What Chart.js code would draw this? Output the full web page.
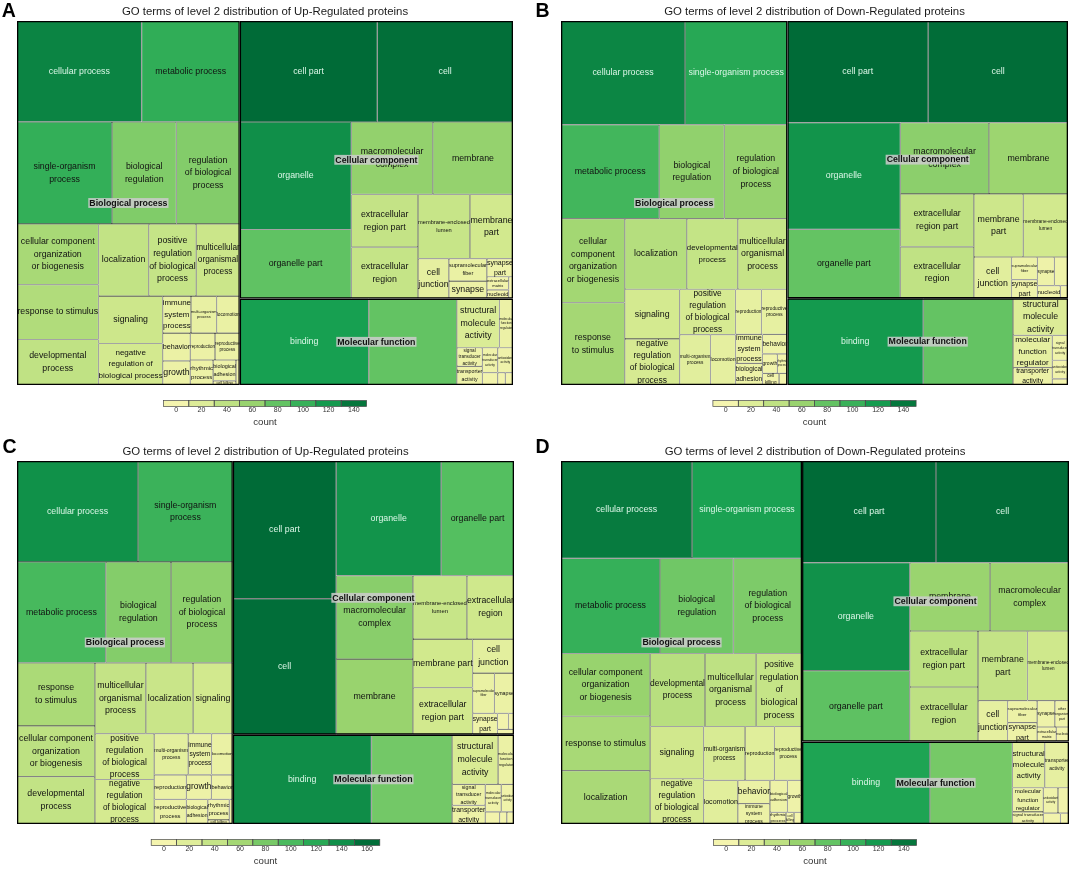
<!DOCTYPE html>
<html>
<head>
<meta charset="utf-8">
<script src="https://cdn.jsdelivr.net/npm/chart.js@4.4.1/dist/chart.umd.min.js"></script>
<style>
  html, body { margin: 0; padding: 0; background: #fff; }
  #page { position: relative; width: 1072px; height: 880px; overflow: hidden; }
  .panel { position: absolute; }
  .letter { position: absolute; font: bold 19.5px "Liberation Sans", Arial, sans-serif; line-height: 1; color: #000; }
</style>
</head>
<body>
<div id="page"></div>
<script>
// ── Data ─────────────────────────────────────────────────────
const titleUp = 'GO terms of level 2 distribution of Up-Regulated proteins';
const titleDown = 'GO terms of level 2 distribution of Down-Regulated proteins';
const panelLetters = ['A', 'B', 'C', 'D'];
const groupNames = ['Biological process', 'Cellular component', 'Molecular function'];
const countLabel = 'count';

// panel A (up-regulated)
const aBioTerms = ['cellular process', 'metabolic process', 'single-organism process', 'biological regulation',
  'regulation of biological process', 'cellular component organization or biogenesis', 'response to stimulus',
  'developmental process', 'localization', 'positive regulation of biological process',
  'multicellular organismal process', 'signaling', 'negative regulation of biological process',
  'immune system process', 'multi-organism process', 'locomotion', 'behavior', 'growth', 'reproduction',
  'reproductive process', 'rhythmic process', 'biological adhesion', 'cell killing', 'detoxification'];
const aBioCounts = [132, 104, 102, 69, 68, 52, 47, 39, 38, 36, 33, 32, 28, 11, 10, 9, 8, 7, 7, 7, 6, 5, 1, 1];
const aCellTerms = ['cell part', 'cell', 'organelle', 'organelle part', 'macromolecular complex', 'membrane',
  'extracellular region part', 'extracellular region', 'membrane-enclosed lumen', 'membrane part', 'cell junction',
  'supramolecular fiber', 'synapse', 'synapse part', 'extracellular matrix', 'nucleoid', 'other organism part'];
const aCellCounts = [146, 144, 126, 81, 62, 61, 37, 36, 35, 29, 13, 9, 7, 5, 3, 2, 1];
const aFuncTerms = ['binding', 'catalytic activity', 'structural molecule activity', 'molecular function regulator',
  'signal transducer activity', 'transporter activity', 'molecular transducer activity', 'antioxidant activity',
  'nucleic acid binding transcription factor activity', 'electron carrier activity',
  'transcription factor activity, protein binding'];
const aFuncCounts = [117, 80, 22, 7, 5, 5, 4, 4, 2, 1, 1];
const legendTicksA = [0, 20, 40, 60, 80, 100, 120, 140];

// panel B (down-regulated)
const bBioTerms = ['cellular process', 'single-organism process', 'metabolic process', 'biological regulation',
  'regulation of biological process', 'cellular component organization or biogenesis', 'response to stimulus',
  'localization', 'developmental process', 'multicellular organismal process', 'signaling',
  'negative regulation of biological process', 'positive regulation of biological process',
  'multi-organism process', 'locomotion', 'reproduction', 'reproductive process', 'immune system process',
  'biological adhesion', 'behavior', 'growth', 'rhythmic process', 'cell killing', 'detoxification'];
const bBioCounts = [132, 109, 95, 63, 61, 55, 54, 45, 37, 36, 28, 26, 26, 16, 13, 12, 12, 8, 6, 5, 3, 2, 2, 1];
const bCellTerms = ['cell part', 'cell', 'organelle', 'organelle part', 'macromolecular complex', 'membrane',
  'extracellular region part', 'extracellular region', 'membrane part', 'membrane-enclosed lumen', 'cell junction',
  'supramolecular fiber', 'synapse part', 'synapse', 'extracellular matrix', 'nucleoid', 'other organism part'];
const bCellCounts = [147, 146, 124, 80, 65, 58, 40, 39, 32, 29, 16, 6, 5, 5, 4, 3, 1];
const bFuncTerms = ['binding', 'catalytic activity', 'structural molecule activity', 'molecular function regulator',
  'transporter activity', 'signal transducer activity', 'antioxidant activity', 'molecular transducer activity'];
const bFuncCounts = [121, 80, 21, 13, 7, 4, 3, 1];
const legendTicksB = [0, 20, 40, 60, 80, 100, 120, 140];

// panel C (up-regulated)
const cBioTerms = ['cellular process', 'single-organism process', 'metabolic process', 'biological regulation',
  'regulation of biological process', 'response to stimulus', 'cellular component organization or biogenesis',
  'developmental process', 'multicellular organismal process', 'localization', 'signaling',
  'positive regulation of biological process', 'negative regulation of biological process',
  'multi-organism process', 'immune system process', 'locomotion', 'reproduction', 'reproductive process',
  'growth', 'behavior', 'biological adhesion', 'rhythmic process', 'cell killing', 'detoxification'];
const cBioCounts = [139, 109, 102, 75, 71, 56, 45, 42, 41, 38, 32, 31, 30, 16, 11, 10, 9, 9, 7, 6, 6, 5, 1, 1];
const cCellTerms = ['cell part', 'cell', 'organelle', 'organelle part', 'macromolecular complex', 'membrane',
  'membrane-enclosed lumen', 'extracellular region', 'membrane part', 'extracellular region part', 'cell junction',
  'supramolecular fiber', 'synapse', 'synapse part', 'extracellular matrix', 'nucleoid', 'other organism part'];
const cCellCounts = [162, 160, 137, 95, 73, 66, 39, 34, 33, 32, 16, 10, 9, 6, 2, 1, 1];
const cFuncTerms = ['binding', 'catalytic activity', 'structural molecule activity', 'molecular function regulator',
  'signal transducer activity', 'transporter activity', 'molecular transducer activity', 'antioxidant activity',
  'nucleic acid binding transcription factor activity', 'electron carrier activity',
  'transcription factor activity, protein binding'];
const cFuncCounts = [141, 82, 26, 9, 8, 7, 5, 4, 2, 1, 1];
const legendTicksC = [0, 20, 40, 60, 80, 100, 120, 140, 160];

// panel D (down-regulated)
const dBioTerms = ['cellular process', 'single-organism process', 'metabolic process', 'biological regulation',
  'regulation of biological process', 'cellular component organization or biogenesis', 'response to stimulus',
  'localization', 'developmental process', 'multicellular organismal process',
  'positive regulation of biological process', 'signaling', 'negative regulation of biological process',
  'multi-organism process', 'reproduction', 'reproductive process', 'locomotion', 'behavior',
  'immune system process', 'biological adhesion', 'growth', 'rhythmic process', 'cell killing', 'detoxification'];
const dBioCounts = [137, 115, 101, 75, 70, 60, 52, 51, 43, 40, 36, 30, 26, 24, 17, 16, 16, 8, 7, 6, 5, 2, 1, 1];
const dCellTerms = ['cell part', 'cell', 'organelle', 'organelle part', 'membrane', 'macromolecular complex',
  'extracellular region part', 'extracellular region', 'membrane part', 'membrane-enclosed lumen', 'cell junction',
  'supramolecular fiber', 'synapse part', 'synapse', 'other organism part', 'extracellular matrix', 'nucleoid'];
const dCellCounts = [146, 145, 125, 82, 59, 58, 41, 40, 37, 31, 13, 7, 6, 5, 4, 3, 2];
const dFuncTerms = ['binding', 'catalytic activity', 'structural molecule activity', 'transporter activity',
  'molecular function regulator', 'signal transducer activity', 'antioxidant activity',
  'molecular transducer activity', 'nucleic acid binding transcription factor activity', 'electron carrier activity'];
const dFuncCounts = [113, 73, 16, 12, 8, 4, 4, 3, 2, 1];
const legendTicksD = [0, 20, 40, 60, 80, 100, 120, 140];

// ── Look ─────────────────────────────────────────────────────
const FONT = '"Liberation Sans", Arial, Helvetica, sans-serif';
const LEAF_SIZE = 8.8;       // label size before shrinking
const LINE_GAP = 1.44;       // line spacing of wrapped labels
const MIN_SCALE = 0.3;       // smaller labels are dropped
const LIGHT_TEXT_AT = 0.725; // share of max count above which text is light
const MAX_OVERLAP = 0.45;    // leaf label hidden when group label covers more than this
const WIDE_BIAS = 1.015;
const paletteStops = ['#f4f4ae', '#d2e98e', '#9cd46f', '#4fbd5f', '#17a051', '#006b37'];

Chart.defaults.font.family = FONT;

function hexToRgb(h) {
  return [1, 3, 5].map(i => parseInt(h.substr(i, 2), 16));
}

function countColor(v, vmax) {
  const t = Math.max(0, Math.min(1, v / vmax)) * (paletteStops.length - 1);
  const i = Math.min(paletteStops.length - 2, Math.floor(t));
  const f = t - i;
  const a = hexToRgb(paletteStops[i]), b = hexToRgb(paletteStops[i + 1]);
  const c = a.map((x, k) => Math.round(x + (b[k] - x) * f));
  return `rgb(${c[0]},${c[1]},${c[2]})`;
}

const sum = arr => arr.reduce((s, v) => s + v, 0);

// ── Pivot-by-size layout (ordered treemap) ──────────────────
function pivotLayout(items, x, y, w, h, out) {
  if (!items.length) return;
  if (items.length === 1) {
    out.push(Object.assign({}, items[0], { x0: x, y0: y, x1: x + w, y1: y + h }));
    return;
  }
  const total = sum(items.map(d => d.value));
  let p = 0;
  items.forEach((d, i) => { if (d.value > items[p].value) p = i; });
  const pv = items[p].value;
  const before = items.slice(0, p), after = items.slice(p + 1);
  const sBefore = sum(before.map(d => d.value));
  const wide = w >= h * WIDE_BIAS;

  let k = 0, best = Infinity, acc = 0;
  for (let j = 0; j <= after.length; j++) {
    if (j > 0) acc += after[j - 1].value;
    const strip = (wide ? w : h) * (pv + acc) / total;
    const side = (wide ? h : w) * pv / (pv + acc);
    const r = Math.max(strip / side, side / strip);
    if (r < best - 1e-9) { best = r; k = j; }
  }
  const mid = after.slice(0, k), rest = after.slice(k);
  const sMid = sum(mid.map(d => d.value));

  if (wide) {
    const w1 = w * sBefore / total;
    const sw = w * (pv + sMid) / total;
    const ph = h * pv / (pv + sMid);
    pivotLayout(before, x, y, w1, h, out);
    out.push(Object.assign({}, items[p], { x0: x + w1, y0: y, x1: x + w1 + sw, y1: y + ph }));
    pivotLayout(mid, x + w1, y + ph, sw, h - ph, out);
    pivotLayout(rest, x + w1 + sw, y, w - w1 - sw, h, out);
  } else {
    const h1 = h * sBefore / total;
    const sh = h * (pv + sMid) / total;
    const pw = w * pv / (pv + sMid);
    pivotLayout(before, x, y, w, h1, out);
    out.push(Object.assign({}, items[p], { x0: x, y0: y + h1, x1: x + pw, y1: y + h1 + sh }));
    pivotLayout(mid, x + pw, y + h1, w - pw, sh, out);
    pivotLayout(rest, x, y + h1 + sh, w, h - h1 - sh, out);
  }
}

function buildCells(groupData, W, H) {
  const groups = groupData.map((g, gi) => ({
    name: groupNames[gi], value: sum(g.counts), terms: g.terms, counts: g.counts
  })).sort((a, b) => b.value - a.value);
  const groupRects = [];
  pivotLayout(groups, 0, 0, W, H, groupRects);
  const leafRects = [];
  groupRects.forEach(g => {
    const leaves = g.terms.map((t, i) => ({ name: t, value: g.counts[i], group: g.name }))
      .sort((a, b) => b.value - a.value);
    pivotLayout(leaves, g.x0, g.y0, g.x1 - g.x0, g.y1 - g.y0, leafRects);
  });
  const centre = r => Object.assign(r, { x: (r.x0 + r.x1) / 2, y: (r.y0 + r.y1) / 2 });
  return { groups: groupRects.map(centre), leaves: leafRects.map(centre) };
}

// ── Treemap controller: rectangles as Chart.js bar elements ──
class TreemapController extends Chart.DatasetController {
  update(mode) {
    const meta = this._cachedMeta;
    this.updateElements(meta.data, 0, meta.data.length, mode);
  }
  updateElements(rects, start, count) {
    const { xScale, yScale } = this._cachedMeta;
    const ds = this.getDataset();
    for (let i = start; i < start + count; i++) {
      const c = ds.data[i];
      const left = xScale.getPixelForValue(c.x0), right = xScale.getPixelForValue(c.x1);
      const top = yScale.getPixelForValue(c.y0), bottom = yScale.getPixelForValue(c.y1);
      Object.assign(rects[i], {
        x: (left + right) / 2, y: top, base: bottom, width: right - left,
        horizontal: false, inflateAmount: 0,
        borderSkipped: { top: false, right: false, bottom: false, left: false },
        options: {
          backgroundColor: Array.isArray(ds.backgroundColor) ? ds.backgroundColor[i] : ds.backgroundColor,
          borderColor: ds.borderColor,
          borderWidth: ds.borderWidth,
          borderRadius: 0
        }
      });
    }
  }
}
TreemapController.id = 'treemap';
TreemapController.defaults = { datasetElementType: false, dataElementType: 'bar' };
Chart.register(TreemapController);

// ── Label fitting ────────────────────────────────────────────
function bestSplit(ctx, words, n) {
  let best = null;
  (function rec(start, parts) {
    const left = n - parts.length;
    if (left === 1) {
      const lines = parts.concat([words.slice(start).join(' ')]);
      const widest = Math.max(...lines.map(l => ctx.measureText(l).width));
      if (!best || widest < best.width) best = { lines, width: widest };
      return;
    }
    for (let e = start + 1; e <= words.length - (left - 1); e++) {
      rec(e, parts.concat([words.slice(start, e).join(' ')]));
    }
  })(0, []);
  return best;
}

function fitLabel(ctx, text, w, h) {
  ctx.font = `${LEAF_SIZE}px ${FONT}`;
  const words = text.split(' ');
  let best = null;
  for (let n = 1; n <= Math.min(words.length, 6); n++) {
    const s = bestSplit(ctx, words, n);
    const scale = Math.min(1, w / s.width, h / (((n - 1) * LINE_GAP + 1.1) * LEAF_SIZE));
    if (!best || scale > best.scale + 1e-6) best = { scale, lines: s.lines, width: s.width };
  }
  return best;
}

function makeLabelPlugin(vmax) {
  return {
    id: 'termLabels',
    afterDatasetsDraw(chart) {
      const ctx = chart.ctx, xs = chart.scales.x, ys = chart.scales.y;
      const px = c => ({
        l: xs.getPixelForValue(c.x0), r: xs.getPixelForValue(c.x1),
        t: ys.getPixelForValue(c.y0), b: ys.getPixelForValue(c.y1)
      });
      const groups = chart.data.datasets[0].data;
      const leaves = chart.data.datasets[1].data;
      ctx.save();
      ctx.textAlign = 'center';
      ctx.textBaseline = 'middle';

      ctx.font = `bold ${LEAF_SIZE}px ${FONT}`;
      const gBoxes = groups.map(g => {
        const p = px(g), tw = ctx.measureText(g.name).width;
        const cx = (p.l + p.r) / 2, cy = (p.t + p.b) / 2;
        return { name: g.name, cx, cy, tw, l: cx - tw / 2, r: cx + tw / 2,
                 t: cy - LEAF_SIZE * 0.375, b: cy + LEAF_SIZE * 0.375 };
      });

      leaves.forEach(c => {
        const p = px(c);
        const fit = fitLabel(ctx, c.name, p.r - p.l, p.b - p.t);
        if (fit.scale < MIN_SCALE) return;
        const fs = LEAF_SIZE * fit.scale, gap = fs * LINE_GAP;
        const bw = fit.width * fit.scale, bh = (fit.lines.length - 1) * gap + fs * 0.75;
        const cx = (p.l + p.r) / 2, cy = (p.t + p.b) / 2;
        const g = gBoxes.find(gb => gb.name === c.group);
        const ox = Math.max(0, Math.min(cx + bw / 2, g.r) - Math.max(cx - bw / 2, g.l));
        const oy = Math.max(0, Math.min(cy + bh / 2, g.b) - Math.max(cy - bh / 2, g.t));
        if (ox * oy > MAX_OVERLAP * bw * bh) return;
        ctx.font = `${fs}px ${FONT}`;
        ctx.fillStyle = c.value / vmax > LIGHT_TEXT_AT ? '#dcf7e8' : '#111';
        fit.lines.forEach((ln, i) => {
          ctx.fillText(ln, cx, cy + (i - (fit.lines.length - 1) / 2) * gap);
        });
      });

      ctx.font = `bold ${LEAF_SIZE}px ${FONT}`;
      gBoxes.forEach(g => {
        ctx.fillStyle = 'rgba(204,204,204,0.86)';
        ctx.fillRect(g.cx - g.tw / 2 - 1, g.cy - LEAF_SIZE * 0.56, g.tw + 2, LEAF_SIZE * 1.12);
        ctx.fillStyle = '#111';
        ctx.fillText(g.name, g.cx, g.cy + 0.3);
      });
      ctx.restore();
    }
  };
}

function makeLegendPlugin(ticks, vmax) {
  return {
    id: 'countLegend',
    afterDraw(chart) {
      const ctx = chart.ctx, ca = chart.chartArea;
      const bw = 25.4, bh = 6, total = bw * ticks.length;
      const cx = (ca.left + ca.right) / 2;
      const x0 = cx - total / 2, y0 = ca.bottom + 15.5;
      ctx.save();
      ticks.forEach((t, i) => {
        ctx.fillStyle = countColor(t, vmax);
        ctx.fillRect(x0 + i * bw, y0, bw, bh);
      });
      ctx.strokeStyle = '#4a4a4a';
      ctx.lineWidth = 0.7;
      ticks.forEach((t, i) => ctx.strokeRect(x0 + i * bw, y0, bw, bh));
      ctx.fillStyle = '#333';
      ctx.textAlign = 'center';
      ctx.textBaseline = 'middle';
      ctx.font = `7px ${FONT}`;
      ticks.forEach((t, i) => ctx.fillText(String(t), x0 + (i + 0.5) * bw, y0 + bh + 4));
      ctx.font = `9.6px ${FONT}`;
      ctx.fillText(countLabel, cx, y0 + bh + 16);
      ctx.restore();
    }
  };
}

// ── Panels ───────────────────────────────────────────────────
const panels = [
  { title: titleUp, ticks: legendTicksA,
    groups: [{ terms: aBioTerms, counts: aBioCounts }, { terms: aCellTerms, counts: aCellCounts }, { terms: aFuncTerms, counts: aFuncCounts }],
    box: { left: 0, top: 0, width: 536, height: 436 }, pad: { left: 17, right: 23, bottom: 51 }, plot: [496, 364], letterAt: [1.7, 0.5] },
  { title: titleDown, ticks: legendTicksB,
    groups: [{ terms: bBioTerms, counts: bBioCounts }, { terms: bCellTerms, counts: bCellCounts }, { terms: bFuncTerms, counts: bFuncCounts }],
    box: { left: 536, top: 0, width: 536, height: 436 }, pad: { left: 25, right: 4, bottom: 51 }, plot: [507, 364], letterAt: [535.6, 0.5] },
  { title: titleUp, ticks: legendTicksC,
    groups: [{ terms: cBioTerms, counts: cBioCounts }, { terms: cCellTerms, counts: cCellCounts }, { terms: cFuncTerms, counts: cFuncCounts }],
    box: { left: 0, top: 440, width: 536, height: 440 }, pad: { left: 17, right: 22, bottom: 56 }, plot: [497, 363], letterAt: [2.4, 436.8] },
  { title: titleDown, ticks: legendTicksD,
    groups: [{ terms: dBioTerms, counts: dBioCounts }, { terms: dCellTerms, counts: dCellCounts }, { terms: dFuncTerms, counts: dFuncCounts }],
    box: { left: 536, top: 440, width: 536, height: 440 }, pad: { left: 25, right: 3, bottom: 56 }, plot: [508, 363], letterAt: [535.6, 436.8] }
];

const page = document.getElementById('page');

panels.forEach((pn, idx) => {
  const holder = document.createElement('div');
  holder.className = 'panel';
  Object.assign(holder.style, { left: pn.box.left + 'px', top: pn.box.top + 'px',
    width: pn.box.width + 'px', height: pn.box.height + 'px' });
  const canvas = document.createElement('canvas');
  canvas.width = pn.box.width;
  canvas.height = pn.box.height;
  holder.appendChild(canvas);
  page.appendChild(holder);

  const letter = document.createElement('div');
  letter.className = 'letter';
  letter.textContent = panelLetters[idx];
  letter.style.left = pn.letterAt[0] + 'px';
  letter.style.top = pn.letterAt[1] + 'px';
  page.appendChild(letter);

  const [W, H] = pn.plot;
  const cells = buildCells(pn.groups, W, H);
  const vmax = Math.max(...pn.groups.flatMap(g => g.counts));

  new Chart(canvas, {
    type: 'treemap',
    data: {
      datasets: [
        { label: 'groups', data: cells.groups, parsing: false,
          backgroundColor: 'rgba(0,0,0,0)', borderColor: '#000', borderWidth: 1.3 },
        { label: 'terms', data: cells.leaves, parsing: false,
          backgroundColor: cells.leaves.map(c => countColor(c.value, vmax)),
          borderColor: '#333', borderWidth: 0.6 }
      ]
    },
    options: {
      responsive: false,
      animation: false,
      events: [],
      layout: { padding: { left: pn.pad.left, right: pn.pad.right, top: 0, bottom: pn.pad.bottom } },
      scales: {
        x: { type: 'linear', min: 0, max: W, bounds: 'data', display: false },
        y: { type: 'linear', min: 0, max: H, bounds: 'data', reverse: true, display: false }
      },
      plugins: {
        legend: { display: false },
        tooltip: { enabled: false },
        title: {
          display: true,
          text: pn.title,
          color: '#1a1a1a',
          font: { size: 11.4, weight: 'normal', family: FONT, lineHeight: 1.2 },
          padding: { top: 5, bottom: 2.3 }
        }
      }
    },
    plugins: [makeLabelPlugin(vmax), makeLegendPlugin(pn.ticks, vmax)]
  });
});
</script>
</body>
</html>
